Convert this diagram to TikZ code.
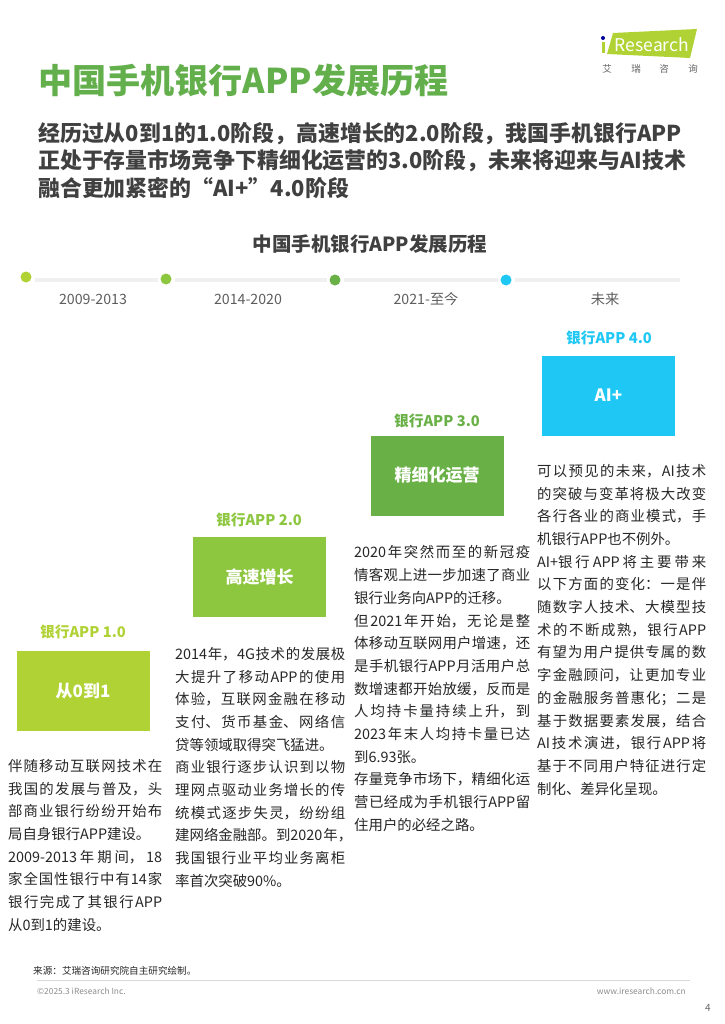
\documentclass[tikz,border=0pt]{standalone}
\usepackage{fontspec}
\setmainfont{Noto Sans CJK SC}
\usetikzlibrary{calc}
\XeTeXlinebreaklocale "zh"
\XeTeXlinebreakskip=0pt plus 4pt minus 0.4pt
\tolerance=9999
\definecolor{stageA}{HTML}{B0D235}
\definecolor{stageB}{HTML}{8DC63F}
\definecolor{stageC}{HTML}{69B146}
\definecolor{stageD}{HTML}{1FC8F4}
\definecolor{titlegreen}{HTML}{62AF4C}
\definecolor{darktext}{HTML}{404040}
\definecolor{bodytext}{HTML}{262626}
\definecolor{lighttext}{HTML}{8C8C8C}
\tikzset{
  tdot/.style={shape=circle,fill=#1,minimum width=11pt,inner sep=0pt,outer sep=3pt},
  tlabel/.style={text=darktext!85,font=\fontsize{14.2}{16}\selectfont},
  stagehead/.style={text=#1,font=\fontsize{14.7}{16}\selectfont\bfseries},
  stagebox/.style={fill=#1,text=white,minimum width=133pt,minimum height=80pt,inner sep=0pt,
    font=\fontsize{17}{19}\selectfont\bfseries},
  column/.style={anchor=north west,inner sep=0pt,text=bodytext,text width=#1,align=justify,
    font=\fontsize{14.4}{22.7}\selectfont},
  small/.style={inner sep=0pt,text=lighttext,font=\fontsize{8.4}{10}\selectfont}
}
\begin{document}
\begin{tikzpicture}[x=1pt,y=-1pt]
        \useasboundingbox (0,0) rectangle (724,1024);
        %% logo
        \fill[stageA] (613,33) -- (697,29) -- (690,58) -- (607,54) -- cycle;
        \fill[stageA] (602,42) rectangle (605,53);
        \fill[blue!60!black] (603,38) circle (2pt);
        \node[inner sep=0pt,text=white,font=\fontsize{17.5}{19}\selectfont] (logo) at (652,45) {Research};
        \foreach \x/\name/\ch in {607/logoa/艾, 636/logob/瑞, 664/logoc/咨, 693/logod/询}
          \node[small,text=darktext!80,font=\fontsize{9.5}{11}\selectfont] (\name) at (\x,69) {\ch};
        %% headings
        \node[anchor=west,inner sep=0pt,text=titlegreen,font=\fontsize{34.1}{40}\selectfont\bfseries]
          (title) at (38,81) {中国手机银行APP发展历程};
        \node[anchor=north west,inner sep=0pt,text=darktext,text width=670pt,
          font=\fontsize{21.9}{27.6}\selectfont\bfseries] (lead) at (38,122)
          {经历过从0到1的1.0阶段，高速增长的2.0阶段，我国手机银行APP\\
           正处于存量市场竞争下精细化运营的3.0阶段，未来将迎来与AI技术\\
           融合更加紧密的“AI+”4.0阶段};
        \node[inner sep=0pt,text=darktext,font=\fontsize{19.5}{21}\selectfont\bfseries]
          (charttitle) at (370,244) {中国手机银行APP发展历程};
        %% time line
        \node[tdot=stageA] (a) at (26,277) {};
        \node[tdot=stageB] (b) at (166,279) {};
        \node[tdot=stageC] (c) at (335,280) {};
        \node[tdot=stageD] (d) at (506,280) {};
        \coordinate (e) at (680,280);
        \path
        \foreach \startNode/\endNode in {a/b, b/c, c/d}
        {
          (\startNode.east |- e) edge[-,line width=4pt,black!6] (\endNode.west |- e)
        }
        (d.east) edge[-,line width=4pt,black!6] (e);
        \foreach \x/\name/\years in {93/ya/2009-2013, 248/yb/2014-2020, 426/yc/2021-至今, 605/yd/未来}
          \node[tlabel] (\name) at (\x,299.5) {\years};
        %% stages
        \foreach \xhead/\yhead/\x/\ybox/\name/\col/\head/\txt in {
            83/632/83/691/boxa/stageA/1.0/从0到1,
            259/520/259.5/576.5/boxb/stageB/2.0/高速增长,
            437/421/437/475.5/boxc/stageC/3.0/精细化运营,
            609/338/608.5/395.5/boxd/stageD/4.0/AI+}
        {
          \node[stagehead=\col] (head\name) at (\xhead,\yhead) {银行APP \head};
          \node[stagebox=\col] (\name) at (\x,\ybox) {\txt};
        }
        %% columns of text
        \node[column=154pt] (texta) at (8,759)
          {伴随移动互联网技术在\linebreak
           我国的发展与普及，头\linebreak
           部商业银行纷纷开始布\linebreak
           局自身银行APP建设。\\
           2009-2013年期间，18\linebreak
           家全国性银行中有14家\linebreak
           银行完成了其银行APP\linebreak
           从0到1的建设。};
        \node[column=170pt] (textb) at (175,647)
          {2014年，4G技术的发展极\linebreak
           大提升了移动APP的使用\linebreak
           体验，互联网金融在移动\linebreak
           支付、货币基金、网络信\linebreak
           贷等领域取得突飞猛进。\\
           商业银行逐步认识到以物\linebreak
           理网点驱动业务增长的传\linebreak
           统模式逐步失灵，纷纷组\linebreak
           \makebox[170pt][l]{建网络金融部。到2020\hspace{1pt}年，}\\
           我国银行业平均业务离柜\linebreak
           率首次突破90\%。};
        \node[column=176pt] (textc) at (354,545.5)
          {2020年突然而至的新冠疫\linebreak
           情客观上进一步加速了商业\linebreak
           银行业务向APP的迁移。\\
           但2021年开始，无论是整\linebreak
           体移动互联网用户增速，还\linebreak
           是手机银行APP月活用户总\linebreak
           数增速都开始放缓，反而是\linebreak
           人均持卡量持续上升，到\linebreak
           2023年末人均持卡量已达\linebreak
           到6.93张。\\
           存量竞争市场下，精细化运\linebreak
           营已经成为手机银行APP留\linebreak
           住用户的必经之路。};
        \node[column=169pt] (textd) at (537,464)
          {可以预见的未来，AI技术\linebreak
           的突破与变革将极大改变\linebreak
           各行各业的商业模式，手\linebreak
           机银行APP也不例外。\\
           AI+银行APP将主要带来\linebreak
           以下方面的变化：一是伴\linebreak
           随数字人技术、大模型技\linebreak
           术的不断成熟，银行APP\linebreak
           有望为用户提供专属的数\linebreak
           字金融顾问，让更加专业\linebreak
           的金融服务普惠化；二是\linebreak
           基于数据要素发展，结合\linebreak
           AI技术演进，银行APP将\linebreak
           基于不同用户特征进行定\linebreak
           制化、差异化呈现。};
        %% footer
        \node[anchor=west,inner sep=0pt,text=bodytext,font=\fontsize{9.6}{11}\selectfont]
          (source) at (33,970.5) {来源：艾瑞咨询研究院自主研究绘制。};
        \coordinate (rulea) at (37,980);
        \coordinate (ruleb) at (690,980);
        \draw[black!15,line width=1pt] (rulea) -- (ruleb);
        \node[small,anchor=west] (copy) at (37,991) {©2025.3 iResearch Inc.};
        \node[small,anchor=east] (web) at (686,991) {www.iresearch.com.cn};
        \node[small,text=darktext!80,font=\fontsize{10}{11}\selectfont] (page) at (708,1008) {4};
\end{tikzpicture}
\end{document}
